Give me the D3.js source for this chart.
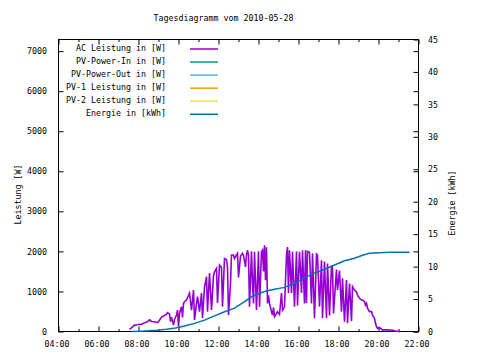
<!DOCTYPE html>
<html>
<head>
<meta charset="utf-8">
<script src="https://cdn.jsdelivr.net/npm/d3@7"></script>
<style>
  html, body { margin: 0; padding: 0; background: #fff; }
  svg { display: block; }
  text { font-family: "DejaVu Sans Mono", monospace; font-size: 8.3px; fill: #000; }
</style>
</head>
<body>
<svg id="chart" width="480" height="360"></svg>
<script>
// ---------- data ----------
const title = "Tagesdiagramm vom 2010-05-28";
const yLabel = "Leistung [W]";
const y2Label = "Energie [kWh]";

const xTickLabels = ["04:00","06:00","08:00","10:00","12:00","14:00","16:00","18:00","20:00","22:00"];
const xMinorTicks = ["05:00","07:00","09:00","11:00","13:00","15:00","17:00","19:00","21:00"];
const yTicks = [0,1000,2000,3000,4000,5000,6000,7000];
const y2Ticks = [0,5,10,15,20,25,30,35,40,45];

const legendNames = ["AC Leistung in [W]","PV-Power-In in [W]","PV-Power-Out in [W]","PV-1 Leistung in [W]","PV-2 Leistung in [W]","Energie in [kWh]"];
const legendColors = ["#9400D3","#009E73","#56B4E9","#E69F00","#F0E442","#0072B2"];

const acTimes = ["07:33","07:39","07:48","07:57","08:03","08:09","08:18","08:24","08:33","08:39","08:48","08:57","09:03","09:09","09:18","09:24","09:27","09:33","09:36","09:39","09:45","09:48","09:54","09:57","10:00","10:03","10:09","10:12","10:15","10:18","10:24","10:30","10:33","10:39","10:45","10:48","10:54","10:57","11:03","11:09","11:12","11:18","11:24","11:27","11:33","11:39","11:45","11:48","11:54","11:57","12:03","12:09","12:12","12:18","12:24","12:27","12:30","12:36","12:39","12:45","12:48","12:54","12:57","13:00","13:06","13:12","13:15","13:21","13:24","13:27","13:30","13:33","13:39","13:42","13:45","13:48","13:54","14:00","14:03","14:09","14:12","14:15","14:18","14:21","14:24","14:27","14:30","14:33","14:39","14:42","14:45","14:48","14:54","14:57","15:03","15:09","15:12","15:18","15:24","15:27","15:30","15:33","15:39","15:42","15:48","15:54","15:57","16:03","16:09","16:12","16:18","16:21","16:24","16:27","16:33","16:39","16:42","16:48","16:54","16:57","17:03","17:09","17:12","17:18","17:24","17:27","17:33","17:39","17:42","17:45","17:54","17:57","18:03","18:09","18:12","18:18","18:24","18:27","18:33","18:39","18:42","18:48","18:54","18:57","19:03","19:09","19:12","19:18","19:21","19:24","19:27","19:33","19:39","19:42","19:48","19:51","19:54","19:57","20:03","20:06","20:12","20:27","20:42","20:51","21:03"];
const acValues = [55,90,160,170,180,175,220,230,290,250,245,220,280,360,400,435,470,440,245,360,160,300,410,535,120,450,620,350,700,745,785,900,960,535,1035,290,700,870,495,960,335,1100,1370,495,1460,535,1400,1490,1575,710,1660,1600,620,1825,1800,1600,410,1200,1910,1910,1820,1910,1950,1350,1880,1950,1900,1615,1910,2030,1900,620,2000,1200,700,1990,535,2000,620,2000,2030,1500,2150,1280,2100,700,900,700,495,410,600,370,450,495,430,960,535,620,1910,2110,960,2030,960,1990,620,2000,650,1990,960,2030,700,2030,710,2000,1980,700,1950,330,1930,1900,620,1780,330,1750,330,1700,400,1650,1600,450,1550,1035,1520,495,1330,245,1285,205,1200,260,1120,1035,990,910,830,785,785,745,660,705,580,495,495,410,330,205,120,80,90,80,40,40,30,10,0];

const energyTimes = ["07:39","08:06","08:30","08:57","09:24","09:51","10:18","10:48","11:18","11:48","12:18","12:48","13:18","13:39","14:00","14:18","14:48","15:18","15:48","16:18","16:48","17:18","17:48","18:18","18:48","19:12","19:33","20:03","20:33","21:33"];
const energyValues = [0,0.05,0.1,0.2,0.35,0.55,0.85,1.25,1.75,2.4,3.05,3.6,4.6,5.35,5.8,6.15,6.5,6.8,7.4,8.3,9.0,9.6,10.25,10.9,11.3,11.75,12.05,12.15,12.2,12.2];

// ---------- helpers ----------
const toMin = s => { const [h, m] = s.split(":").map(Number); return h * 60 + m; };

const svg = d3.select("#chart");
const L = 58.5, R = 418.5, T = 39.5, B = 331.5;

const x = d3.scaleLinear().domain([4 * 60, 22 * 60]).range([L, R]);
const y = d3.scaleLinear().domain([0, 7290]).range([B, T]);
const y2 = d3.scaleLinear().domain([0, 45]).range([B, T]);

// ---------- axes ----------
const axStyle = g => {
  g.select(".domain").remove();
  g.selectAll("line").attr("stroke", "#000").attr("stroke-width", 1);
  g.selectAll("text").attr("font-family", null).attr("font-size", null).attr("fill", "#000");
};

svg.append("g").attr("transform", `translate(0,${B})`)
  .call(d3.axisBottom(x).tickValues(xTickLabels.map(toMin)).tickFormat((d, i) => xTickLabels[i])
    .tickSizeInner(-5).tickSizeOuter(0).tickPadding(9.6))
  .call(axStyle)
  .call(g => g.selectAll("text").attr("dx", -2));

svg.append("g").attr("transform", `translate(0,${B})`)
  .call(d3.axisBottom(x).tickValues(xMinorTicks.map(toMin)).tickFormat("").tickSizeInner(-2.5).tickSizeOuter(0))
  .call(axStyle);

svg.append("g").attr("transform", `translate(0,${T})`)
  .call(d3.axisTop(x).tickValues(xTickLabels.map(toMin)).tickFormat("").tickSizeInner(-5).tickSizeOuter(0))
  .call(axStyle);
svg.append("g").attr("transform", `translate(0,${T})`)
  .call(d3.axisTop(x).tickValues(xMinorTicks.map(toMin)).tickFormat("").tickSizeInner(-2.5).tickSizeOuter(0))
  .call(axStyle);

svg.append("g").attr("transform", `translate(${L},0)`)
  .call(d3.axisLeft(y).tickValues(yTicks).tickFormat(d3.format("d")).tickSizeInner(-5).tickSizeOuter(0).tickPadding(11.5))
  .call(axStyle);

svg.append("g").attr("transform", `translate(${R},0)`)
  .call(d3.axisRight(y).tickValues(yTicks).tickFormat("").tickSizeInner(-5).tickSizeOuter(0))
  .call(axStyle);

svg.append("g").attr("transform", `translate(${R},0)`)
  .call(d3.axisRight(y2).tickValues(y2Ticks).tickFormat(d3.format("d")).tickSizeInner(-5).tickSizeOuter(0).tickPadding(9.5))
  .call(axStyle);

// border
svg.append("rect").attr("x", L).attr("y", T).attr("width", R - L).attr("height", B - T)
  .attr("fill", "none").attr("stroke", "#000").attr("stroke-width", 1);

// ---------- texts ----------
svg.append("text").attr("x", 223.5).attr("y", 20.5).attr("text-anchor", "middle").text(title);
svg.append("text").attr("transform", "translate(20.5,194.5) rotate(-90)").attr("text-anchor", "middle").text(yLabel);
svg.append("text").attr("transform", "translate(455,203) rotate(-90)").attr("text-anchor", "middle").text(y2Label);

// ---------- series ----------
const acData = acTimes.map((t, i) => [toMin(t), acValues[i]]);
const enData = energyTimes.map((t, i) => [toMin(t), energyValues[i]]);

svg.append("path").datum(acData)
  .attr("fill", "none").attr("stroke", legendColors[0]).attr("stroke-width", 1.6)
  .attr("stroke-linejoin", "miter")
  .attr("d", d3.line().x(d => x(d[0])).y(d => y(d[1])));

svg.append("path").datum(enData)
  .attr("fill", "none").attr("stroke", legendColors[5]).attr("stroke-width", 1.5)
  .attr("d", d3.line().x(d => x(d[0])).y(d => y2(d[1])));

// ---------- legend ----------
const leg = svg.append("g");
legendNames.forEach((name, i) => {
  const ly = 49 + i * 13.05;
  leg.append("text").attr("x", 166).attr("y", ly + 2).attr("text-anchor", "end").text(name);
  leg.append("line").attr("x1", 190).attr("x2", 218).attr("y1", ly).attr("y2", ly)
    .attr("stroke", legendColors[i]).attr("stroke-width", 1.5);
});
</script>
</body>
</html>
